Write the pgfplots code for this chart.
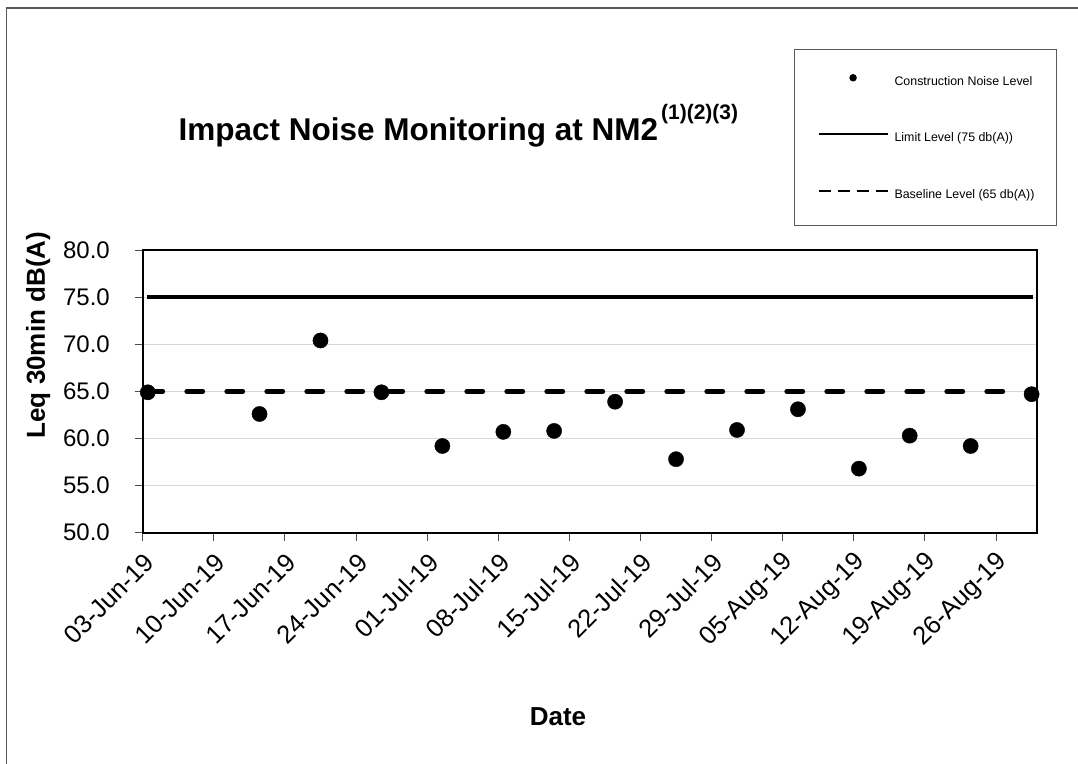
\documentclass[border=0pt]{standalone}
\usepackage{pgfplots}
\pgfplotsset{compat=1.18}
\usepackage{fontspec}
\setmainfont{Liberation Sans}
\begin{document}
\begin{tikzpicture}[x=1pt,y=1pt]
\useasboundingbox (-142.7,-230.3) rectangle (935.3,532.7);
\draw[line width=1.5pt, gray!70!black] (-136.2,-240) -- (-136.2,524.7) -- (940,524.7);
\begin{axis}[
  at={(0pt,0pt)}, anchor=south west,
  scale only axis, width=894pt, height=282.7pt,
  xmin=0, xmax=88, ymin=50, ymax=80,
  xtick={0,7,...,84},
  xticklabels={03-Jun-19,10-Jun-19,17-Jun-19,24-Jun-19,01-Jul-19,08-Jul-19,15-Jul-19,22-Jul-19,29-Jul-19,05-Aug-19,12-Aug-19,19-Aug-19,26-Aug-19},
  ytick={50,55,...,80},
  yticklabels={50.0,55.0,60.0,65.0,70.0,75.0,80.0},
  xtick pos=bottom, ytick pos=left,
  tick align=outside, major tick length=8pt,
  tick style={gray!60!black, line width=1pt},
  axis line style={black, line width=2pt},
  ymajorgrids, grid style={gray!30, line width=1pt},
  yticklabel style={font=\fontsize{24}{24}\selectfont, anchor=east, inner sep=0pt, xshift=-24.7pt},
  xticklabel style={font=\fontsize{25.5}{25.5}\selectfont, xshift=7pt, yshift=-17pt, rotate=45, anchor=east, inner sep=0pt},
  xlabel={Date},
  xlabel style={font=\fontsize{26}{26}\selectfont\bfseries, at={(axis description cs:0.4645,-0.652)}, anchor=center},
  ylabel={Leq 30min dB(A)},
  ylabel style={font=\fontsize{26}{26}\selectfont\bfseries, at={(axis description cs:-0.117,0.699)}, anchor=center},
  legend style={at={(axis description cs:0.7289,1.71)}, anchor=north west,
    draw=gray!70!black, line width=1pt, fill=white,
    font=\fontsize{12.4}{12.4}\selectfont,
    inner xsep=22.5pt, inner ysep=24.3pt, row sep=44.7pt, column sep=5.7pt,
    nodes={inner sep=0pt, text height=9pt, text depth=3pt}},
  legend cell align=left,
]
\addlegendimage{legend image code/.code={\fill[black] (34.5pt,4.3pt) circle (3.2pt);}}
\addlegendentry{Construction Noise Level}
\addlegendimage{legend image code/.code={\draw[black, line width=2pt] (0pt,4.3pt) -- (69pt,4.3pt);}}
\addlegendentry{Limit Level (75 db(A))}
\addlegendimage{legend image code/.code={\draw[black, line width=2.5pt, dash pattern=on 12pt off 7pt] (0pt,4.3pt) -- (69pt,4.3pt);}}
\addlegendentry{Baseline Level (65 db(A))}

\addplot[forget plot, black, line width=3.3pt] coordinates {(0.4,75) (87.6,75)};
\addplot[forget plot, black, line width=4.8pt, line cap=round, dash pattern=on 16pt off 24pt] coordinates {(0.4,65) (87.6,65)};
\addplot[forget plot, only marks, mark=*, mark size=7.6pt, mark options={fill=black, draw=black}] coordinates {
(0.5,64.9) (11.5,62.6) (17.5,70.4) (23.5,64.9) (29.5,59.2) (35.5,60.7) (40.5,60.8)
(46.5,63.9) (52.5,57.8) (58.5,60.9) (64.5,63.1) (70.5,56.8) (75.5,60.3) (81.5,59.2) (87.5,64.7)};
\end{axis}
\node[anchor=base west, inner sep=0pt] at (35.7,392.2) {\fontsize{31.5}{31.5}\selectfont\bfseries Impact Noise Monitoring at NM2\hspace{3pt}\raisebox{21pt}{\fontsize{21}{21}\selectfont (1)(2)(3)}};
\end{tikzpicture}
\end{document}
